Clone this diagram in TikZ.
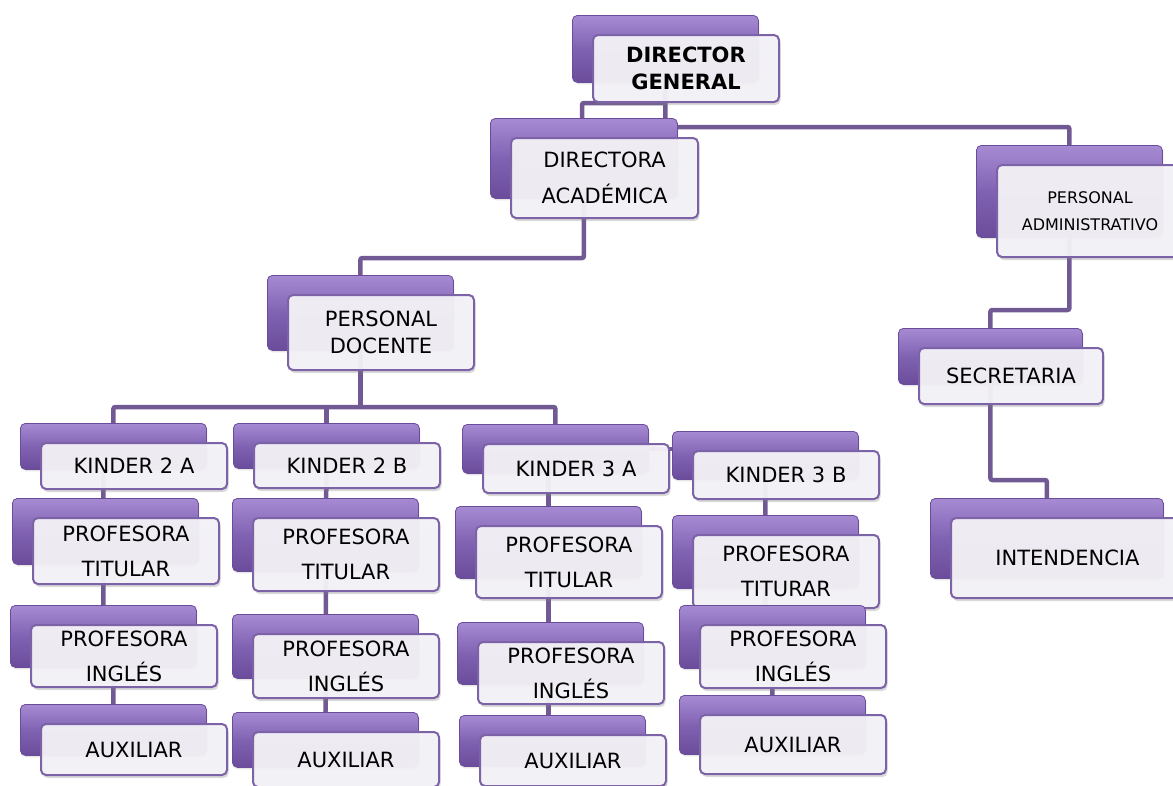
\documentclass[tikz,border=0pt]{standalone}
\usepackage{fontspec}
\setmainfont{DejaVu Sans}
\usetikzlibrary{calc,shadows,backgrounds}

\definecolor{boxTop}{HTML}{A68BD3}
\definecolor{boxMid}{HTML}{8062B2}
\definecolor{boxBot}{HTML}{6A4C9B}
\definecolor{boxLine}{HTML}{7C62A6}
\definecolor{frontFill}{HTML}{F4F2F7}
\definecolor{connColor}{HTML}{715A94}

\tikzset{
  backbox/.style={anchor=north west, rounded corners=5pt, draw=boxBot, line width=0.8pt,
    top color=boxTop, bottom color=boxBot, middle color=boxMid, inner sep=0pt,
    drop shadow={shadow xshift=1pt, shadow yshift=-2pt, opacity=0.2}},
  frontbox/.style={anchor=north west, rounded corners=5pt, draw=boxLine, line width=2pt,
    fill=frontFill, fill opacity=0.95, text opacity=1,
    drop shadow={shadow xshift=1.5pt, shadow yshift=-3pt, opacity=0.3},
    inner sep=0pt, align=center, font=\fontsize{21}{35}\selectfont},
  conn/.style={draw=connColor, line width=4.5pt, rounded corners=2pt}
}

% back box at (x,y), front box shifted by (20,19)
\newcommand{\orgbox}[7][]{%
  \node[backbox, minimum width=#5pt, minimum height=#6pt] (#2B) at (#3,#4) {};
  \node[frontbox, minimum width=#5pt, minimum height=#6pt, #1] (#2) at ($(#3,#4)+(20,19)$) {#7};
}

\begin{document}
\begin{tikzpicture}[x=1pt, y=-1pt]
  \useasboundingbox (0,0) rectangle (1173,785);

  % boxes
  \orgbox[font=\fontsize{21}{27}\selectfont\bfseries]{dg}{572}{15}{186}{67}{DIRECTOR\\GENERAL}
  \orgbox[font=\fontsize{21}{36}\selectfont]{da}{490}{118}{187}{80}{DIRECTORA\\ACADÉMICA}
  \orgbox[font=\fontsize{16}{27}\selectfont]{pa}{976}{145}{186}{92}{PERSONAL\\ADMINISTRATIVO}
  \orgbox{sec}{898}{328}{184}{56}{SECRETARIA}
  \orgbox{int}{930}{498}{233}{80}{INTENDENCIA}
  \orgbox[font=\fontsize{21}{27}\selectfont]{pd}{267}{275}{186}{75}{PERSONAL\\DOCENTE}

  \orgbox{k2a}{20}{423}{186}{46}{KINDER 2 A}
  \orgbox{k2b}{233}{423}{186}{45}{KINDER 2 B}
  \orgbox{k3a}{462}{424}{186}{49}{KINDER 3 A}
  \orgbox{k3b}{672}{431}{186}{48}{KINDER 3 B}

  \orgbox{pt2a}{12}{498}{186}{66}{PROFESORA\\TITULAR}
  \orgbox{pt2b}{232}{498}{186}{73}{PROFESORA\\TITULAR}
  \orgbox{pt3a}{455}{506}{186}{72}{PROFESORA\\TITULAR}
  \orgbox{pt3b}{672}{515}{186}{73}{PROFESORA\\TITURAR}

  \orgbox{pi2a}{10}{605}{186}{62}{PROFESORA\\INGLÉS}
  \orgbox{pi2b}{232}{614}{186}{64}{PROFESORA\\INGLÉS}
  \orgbox{pi3a}{457}{622}{186}{62}{PROFESORA\\INGLÉS}
  \orgbox{pi3b}{679}{605}{186}{63}{PROFESORA\\INGLÉS}

  \orgbox{ax2a}{20}{704}{186}{51}{AUXILIAR}
  \orgbox{ax2b}{232}{712}{186}{55}{AUXILIAR}
  \orgbox{ax3a}{459}{715}{186}{51}{AUXILIAR}
  \orgbox{ax3b}{679}{695}{186}{59}{AUXILIAR}

  \coordinate (j0) at (582,103);
  \coordinate (j1) at (665,127);
  \coordinate (j2) at (583,258);
  \coordinate (j3) at (360,407);
  \coordinate (j4) at (1069,310);
  \coordinate (j5) at (990,480);

  % connectors, under the boxes
  \begin{scope}[on background layer]
    \draw[conn] (dgB.center) -- (dgB.center |- j0) -- (j0) -- (j0 |- daB.center);
    \draw[conn] (dgB.center) -- (dgB.center |- j1) -| (paB.center);
    \draw[conn] (daB.center) -- (daB.center |- j2) -| (pdB.center);
    \draw[conn] (pdB.center) -- (pdB.center |- j3);
    \draw[conn] (k2aB.center) |- (j3) -| (k3aB.center);
    \draw[conn] (j3 -| k2bB.center) -- (k2bB.center);
    \draw[conn] (k3aB.center) -- (k3aB.center -| k3bB.center);
    \draw[conn] ([xshift=-10pt]k2aB.center) -- ([xshift=-10pt]k2aB.center |- pi2aB.south) -| (ax2aB.center);
    \draw[conn] (k2bB.center) -- (ax2bB.center);
    \draw[conn] ([xshift=-7pt]k3aB.center) -- ([xshift=-7pt]k3aB.center |- ax3aB.center);
    \draw[conn] (k3bB.center) -- (k3bB.center |- pi3bB.south) -| (ax3bB.center);
    \draw[conn] (paB.center) -- (paB.center |- j4) -| (secB.center);
    \draw[conn] (secB.center) -- (secB.center |- j5) -| (intB.center);
  \end{scope}
\end{tikzpicture}
\end{document}
